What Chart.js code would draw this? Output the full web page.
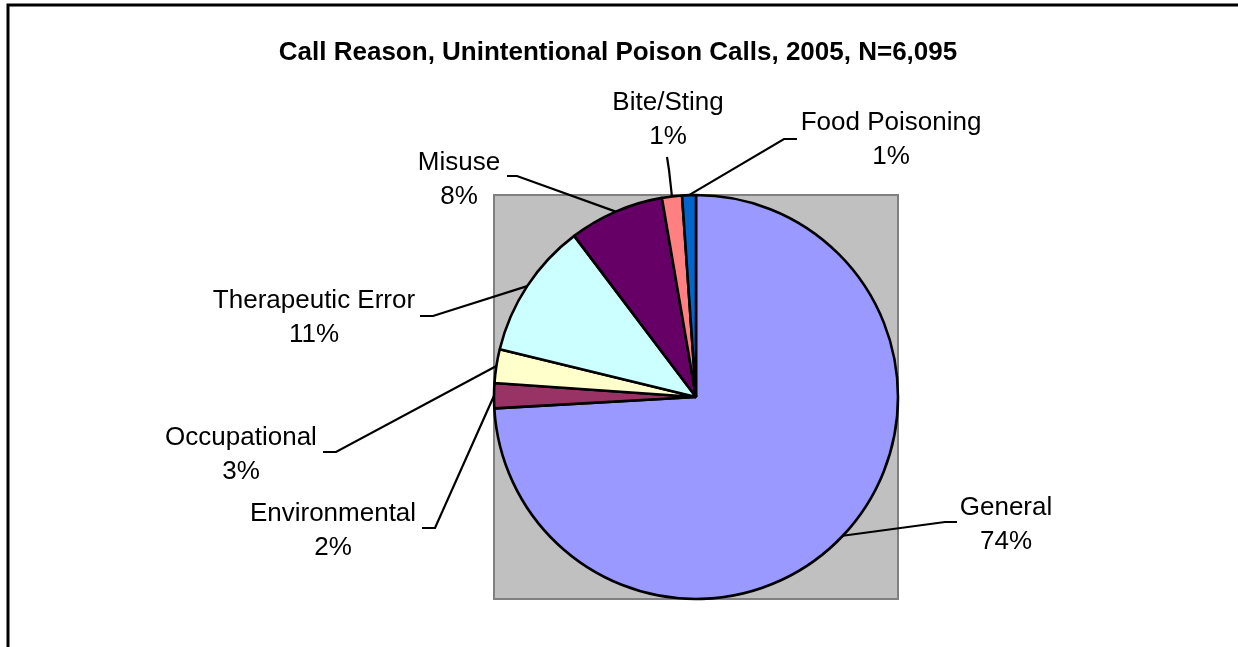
<!DOCTYPE html>
<html>
<head>
<meta charset="utf-8">
<script src="https://cdn.jsdelivr.net/npm/chart.js@4"></script>
<style>
	html, body { margin: 0; padding: 0; background: #fff; }
	#wrap { width: 1238px; height: 647px; position: relative; }
</style>
</head>
<body>
<div id="wrap"><canvas id="chart-reasons"></canvas></div>
<script>
// Data
const chartTitle = 'Call Reason, Unintentional Poison Calls, 2005, N=6,095';
const categories = ['General', 'Environmental', 'Occupational', 'Therapeutic Error', 'Misuse', 'Bite/Sting', 'Food Poisoning'];
const shares = [74.1, 2.0, 2.7, 10.9, 7.6, 1.6, 1.1];
const percentLabels = ['74%', '2%', '3%', '11%', '8%', '1%', '1%'];
const sliceColors = ['#9999FF', '#993366', '#FFFFCC', '#CCFFFF', '#660066', '#FF8080', '#0066CC'];

// Where each label sits: text centre x, baseline of first line, leader elbow points
const labelLayout = [
	{ x: 1006, y: 515, leader: [[957, 522], [945, 522]] },
	{ x: 333, y: 521, leader: [[422, 528], [435, 528]] },
	{ x: 241, y: 445, leader: [[323, 452], [336, 452]] },
	{ x: 314, y: 308, leader: [[420, 316], [433, 316]] },
	{ x: 459, y: 170, leader: [[507, 176], [517, 176]] },
	{ x: 668, y: 110, leader: [[667, 157], [669, 170]] },
	{ x: 891, y: 130, leader: [[797, 139], [784, 139]] }
];
const FONT = '"Liberation Sans", Arial, sans-serif';

const backdrop = {
	id: 'backdrop',
	beforeDatasetsDraw(chart) {
		const ctx = chart.ctx;
		const arc = chart.getDatasetMeta(0).data[0];
		const r = arc.outerRadius;
		ctx.save();
		// outer frame
		ctx.strokeStyle = '#000';
		ctx.lineWidth = 3;
		ctx.strokeRect(8, 5, 1400, 800);
		// plot area square
		ctx.fillStyle = '#C0C0C0';
		ctx.fillRect(arc.x - r, arc.y - r, 2 * r, 2 * r);
		ctx.strokeStyle = '#808080';
		ctx.lineWidth = 2;
		ctx.strokeRect(arc.x - r, arc.y - r, 2 * r, 2 * r);
		// title
		ctx.fillStyle = '#000';
		ctx.font = 'bold 26px ' + FONT;
		ctx.textAlign = 'center';
		ctx.textBaseline = 'alphabetic';
		ctx.fillText(chartTitle, 618, 60);
		ctx.restore();
	}
};

const sliceLabels = {
	id: 'sliceLabels',
	afterDatasetsDraw(chart) {
		const ctx = chart.ctx;
		const arcs = chart.getDatasetMeta(0).data;
		ctx.save();
		ctx.strokeStyle = '#000';
		ctx.lineWidth = 2.2;
		ctx.fillStyle = '#000';
		ctx.font = '26px ' + FONT;
		ctx.textAlign = 'center';
		ctx.textBaseline = 'alphabetic';
		arcs.forEach((arc, i) => {
			const mid = (arc.startAngle + arc.endAngle) / 2;
			const ex = arc.x + Math.cos(mid) * arc.outerRadius;
			const ey = arc.y + Math.sin(mid) * arc.outerRadius;
			const lay = labelLayout[i];
			ctx.beginPath();
			ctx.moveTo(lay.leader[0][0], lay.leader[0][1]);
			ctx.lineTo(lay.leader[1][0], lay.leader[1][1]);
			ctx.lineTo(ex, ey);
			ctx.stroke();
			ctx.fillText(categories[i], lay.x, lay.y);
			ctx.fillText(percentLabels[i], lay.x, lay.y + 34);
		});
		ctx.restore();
	}
};

let ctx = document.getElementById('chart-reasons');
let chart = new Chart(ctx, {
	type: 'pie',
	data: {
		labels: categories,
		datasets: [{
			data: shares,
			backgroundColor: sliceColors,
			borderColor: '#000',
			borderWidth: 2.6,
			radius: 202
		}]
	},
	options: {
		responsive: true,
		maintainAspectRatio: false,
		animation: false,
		layout: { padding: { left: 200, right: 46, top: 160, bottom: 13 } },
		plugins: {
			legend: { display: false },
			tooltip: { enabled: false },
			title: { display: false }
		}
	},
	plugins: [backdrop, sliceLabels]
});
</script>
</body>
</html>
